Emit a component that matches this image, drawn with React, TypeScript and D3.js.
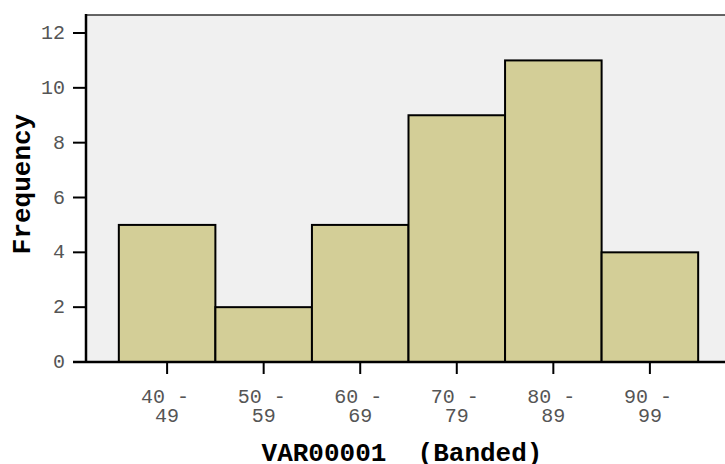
import React from "react";
import * as d3 from "d3";

const categories: string[] = ["40 - 49", "50 - 59", "60 - 69", "70 - 79", "80 - 89", "90 - 99"];
const frequencies: number[] = [5, 2, 5, 9, 11, 4];
const yTicks: number[] = [0, 2, 4, 6, 8, 10, 12];
const xTitle = "VAR00001  (Banded)";
const yTitle = "Frequency";

const W = 725;
const H = 464;
const left = 86;
const right = 731;
const top = 15;
const bottom = 362;

export default function App() {
  const x = d3.scaleBand<string>().domain(categories).range([left, right]).paddingInner(0).paddingOuter(0.34);
  const y = d3.scaleLinear().domain([0, 12]).range([bottom, 33]);
  const mono = "'Liberation Mono', 'Courier New', monospace";

  return (
    <svg width={W} height={H} style={{ position: "absolute", left: 0, top: 0, background: "#fff" }}>
      <rect x={left} y={top} width={right - left} height={bottom - top} fill="#f0f0f0" />
      <line x1={left} x2={W} y1={top} y2={top} stroke="#333" strokeWidth={1.5} />
      {categories.map((c, i) => (
        <rect
          key={c}
          x={x(c)!}
          y={y(frequencies[i])}
          width={x.bandwidth()}
          height={bottom - y(frequencies[i])}
          fill="#d3ce97"
          stroke="#000"
          strokeWidth={2}
        />
      ))}
      <line x1={left} x2={left} y1={top - 1} y2={bottom} stroke="#000" strokeWidth={2.5} />
      <line x1={73} x2={W} y1={bottom} y2={bottom} stroke="#000" strokeWidth={2.5} />
      {yTicks.map((t) => (
        <g key={t}>
          <line x1={73} x2={left} y1={y(t)} y2={y(t)} stroke="#000" strokeWidth={2} />
          <text x={65} y={y(t) + 6} textAnchor="end" fontFamily={mono} fontSize={20} fill="#555">
            {t}
          </text>
        </g>
      ))}
      {categories.map((c) => {
        const cx = x(c)! + x.bandwidth() / 2;
        const parts = c.split(" - ");
        return (
          <g key={c}>
            <line x1={cx} x2={cx} y1={bottom} y2={bottom + 12} stroke="#000" strokeWidth={2} />
            <text x={cx - 2} y={403} textAnchor="middle" fontFamily={mono} fontSize={20} fill="#555" xmlSpace="preserve">
              {parts[0] + " -"}
            </text>
            <text x={cx} y={422} textAnchor="middle" fontFamily={mono} fontSize={20} fill="#555">
              {parts[1]}
            </text>
          </g>
        );
      })}
      <text x={402} y={461} textAnchor="middle" fontFamily={mono} fontWeight="bold" fontSize={26} fill="#000" xmlSpace="preserve" style={{ whiteSpace: "pre" }}>
        {xTitle}
      </text>
      <text
        transform={`translate(30, 184) rotate(-90)`}
        textAnchor="middle"
        fontFamily={mono}
        fontWeight="bold"
        fontSize={26}
        fill="#000"
      >
        {yTitle}
      </text>
    </svg>
  );
}
